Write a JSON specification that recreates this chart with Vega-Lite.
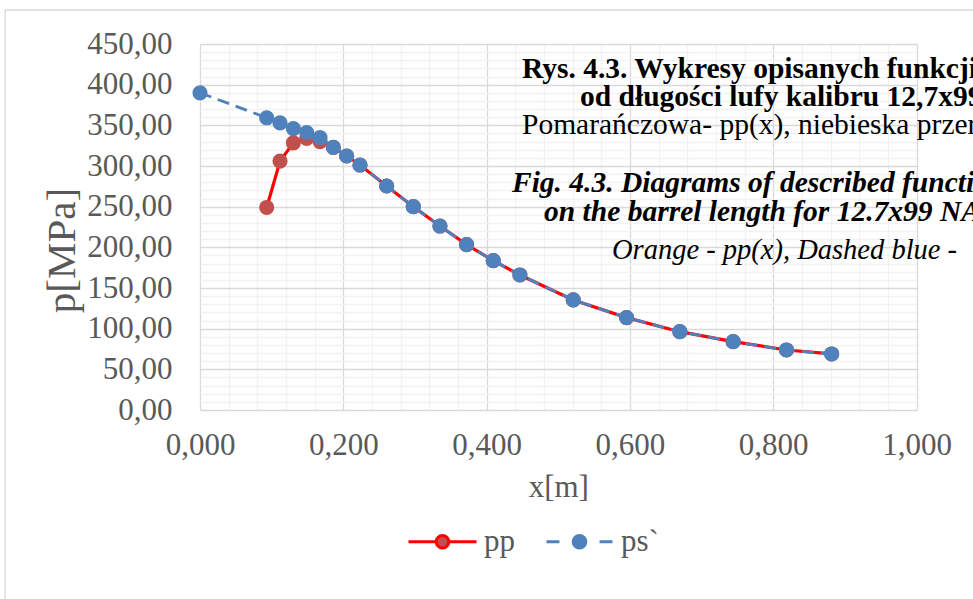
{
  "$schema": "https://vega.github.io/schema/vega-lite/v6.json",
  "autosize": {"type": "none"},
  "width": 716.5,
  "height": 366,
  "padding": {"left": 200, "top": 44, "right": 56.5, "bottom": 189},
  "background": "white",
  "config": {
    "view": {"stroke": null},
    "font": "Liberation Serif",
    "axis": {
      "domain": false, "ticks": false, "gridWidth": 1.3,
      "labelFont": "Liberation Serif", "labelFontSize": 31, "labelColor": "#595959",
      "labelOverlap": false, "labelFlush": false,
      "titleFont": "Liberation Serif", "titleColor": "#595959", "titleFontWeight": "normal"
    }
  },
  "datasets": {
    "curves": [
      {"x": 0.0931, "p": 249, "series": "pp"},
      {"x": 0.1117, "p": 306, "series": "pp"},
      {"x": 0.1303, "p": 328.5, "series": "pp"},
      {"x": 0.1489, "p": 334, "series": "pp"},
      {"x": 0.1675, "p": 330, "series": "pp"},
      {"x": 0.1861, "p": 323, "series": "pp"},
      {"x": 0.2047, "p": 312.3, "series": "pp"},
      {"x": 0.2233, "p": 301.2, "series": "pp"},
      {"x": 0.2605, "p": 275.4, "series": "pp"},
      {"x": 0.2977, "p": 250, "series": "pp"},
      {"x": 0.3349, "p": 226.2, "series": "pp"},
      {"x": 0.3721, "p": 203.3, "series": "pp"},
      {"x": 0.4093, "p": 183.6, "series": "pp"},
      {"x": 0.4465, "p": 166, "series": "pp"},
      {"x": 0.5209, "p": 135.3, "series": "pp"},
      {"x": 0.5953, "p": 113.6, "series": "pp"},
      {"x": 0.6697, "p": 96.3, "series": "pp"},
      {"x": 0.7441, "p": 84, "series": "pp"},
      {"x": 0.8185, "p": 73.8, "series": "pp"},
      {"x": 0.8816, "p": 68.9, "series": "pp"},
      {"x": 0.0, "p": 390, "series": "ps`"},
      {"x": 0.0931, "p": 359.3, "series": "ps`"},
      {"x": 0.1117, "p": 353, "series": "ps`"},
      {"x": 0.1303, "p": 346, "series": "ps`"},
      {"x": 0.1489, "p": 341.2, "series": "ps`"},
      {"x": 0.1675, "p": 334.8, "series": "ps`"},
      {"x": 0.1861, "p": 323, "series": "ps`"},
      {"x": 0.2047, "p": 312.3, "series": "ps`"},
      {"x": 0.2233, "p": 301.2, "series": "ps`"},
      {"x": 0.2605, "p": 275.4, "series": "ps`"},
      {"x": 0.2977, "p": 250, "series": "ps`"},
      {"x": 0.3349, "p": 226.2, "series": "ps`"},
      {"x": 0.3721, "p": 203.3, "series": "ps`"},
      {"x": 0.4093, "p": 183.6, "series": "ps`"},
      {"x": 0.4465, "p": 166, "series": "ps`"},
      {"x": 0.5209, "p": 135.3, "series": "ps`"},
      {"x": 0.5953, "p": 113.6, "series": "ps`"},
      {"x": 0.6697, "p": 96.3, "series": "ps`"},
      {"x": 0.7441, "p": 84, "series": "ps`"},
      {"x": 0.8185, "p": 73.8, "series": "ps`"},
      {"x": 0.8816, "p": 68.9, "series": "ps`"}
    ]
  },
  "layer": [
    {
      "data": {"name": "curves"},
      "transform": [{"filter": "datum.series === 'pp'"}],
      "mark": {"type": "line", "strokeWidth": 3.2},
      "encoding": {
        "x": {"field": "x", "type": "quantitative", "scale": {"domain": [0, 1], "nice": false, "zero": false},
          "axis": {"title": "x[m]", "values": [0,0.04,0.08,0.12,0.16,0.2,0.24,0.28,0.32,0.36,0.4,0.44,0.48,0.52,0.56,0.6,0.64,0.68,0.72,0.76,0.8,0.84,0.88,0.92,0.96,1], "labelExpr": "abs(datum.value*5 - round(datum.value*5)) < 1e-6 ? replace(format(datum.value, '.3f'), '.', ',') : ''", "gridColor": {"condition": {"test": "abs(datum.value*5 - round(datum.value*5)) < 1e-6", "value": "#D9D9D9"}, "value": "#F2F2F2"}, "labelPadding": 20, "titleFontSize": 31, "titlePadding": 12}},
        "y": {"field": "p", "type": "quantitative", "scale": {"domain": [0, 450], "nice": false, "zero": false},
          "axis": {"title": "p[MPa]", "values": [0,10,20,30,40,50,60,70,80,90,100,110,120,130,140,150,160,170,180,190,200,210,220,230,240,250,260,270,280,290,300,310,320,330,340,350,360,370,380,390,400,410,420,430,440,450], "labelExpr": "datum.value % 50 === 0 ? replace(format(datum.value, '.2f'), '.', ',') : ''", "gridColor": {"condition": {"test": "datum.value % 50 === 0", "value": "#D9D9D9"}, "value": "#F2F2F2"}, "labelPadding": 28, "titleFontSize": 41, "titlePadding": 3, "titleY": 206}},
        "stroke": {
          "field": "series", "type": "nominal",
          "scale": {"domain": ["pp", "ps`"], "range": ["#FF0000", "#4F81BD"]},
          "legend": {
            "title": null, "orient": "none", "direction": "horizontal",
            "legendX": 207, "legendY": 462, "padding": 0,
            "symbolSize": 4624, "symbolStrokeWidth": 3,
            "labelFont": "Liberation Serif", "labelFontSize": 31, "labelColor": "#595959",
            "labelOffset": 6, "columnPadding": 25,
            "encode": {
              "symbols": {
                "update": {
                  "shape": {"signal": "datum.value === 'pp' ? 'M-1,0L-0.185,0M0.185,0L1,0M0.185,0A0.185,0.185,0,1,1,-0.185,0A0.185,0.185,0,1,1,0.185,0' : 'M-0.97,0L-0.59,0M0.59,0L0.97,0M0.185,0A0.185,0.185,0,1,1,-0.185,0A0.185,0.185,0,1,1,0.185,0'"},
                  "fill": {"signal": "datum.value === 'pp' ? '#C0504D' : '#4F81BD'"},
                  "strokeDash": {"value": []},
                  "opacity": {"value": 1}
                }
              }
            }
          }
        }
      }
    },
    {
      "data": {"name": "curves"},
      "transform": [{"filter": "datum.series === 'pp'"}],
      "mark": {"type": "circle", "size": 230, "color": "#C0504D", "opacity": 1},
      "encoding": {
        "x": {"field": "x", "type": "quantitative",
          "axis": {"title": "x[m]", "values": [0,0.04,0.08,0.12,0.16,0.2,0.24,0.28,0.32,0.36,0.4,0.44,0.48,0.52,0.56,0.6,0.64,0.68,0.72,0.76,0.8,0.84,0.88,0.92,0.96,1], "labelExpr": "abs(datum.value*5 - round(datum.value*5)) < 1e-6 ? replace(format(datum.value, '.3f'), '.', ',') : ''", "gridColor": {"condition": {"test": "abs(datum.value*5 - round(datum.value*5)) < 1e-6", "value": "#D9D9D9"}, "value": "#F2F2F2"}, "labelPadding": 20, "titleFontSize": 31, "titlePadding": 12}},
        "y": {"field": "p", "type": "quantitative",
          "axis": {"title": "p[MPa]", "values": [0,10,20,30,40,50,60,70,80,90,100,110,120,130,140,150,160,170,180,190,200,210,220,230,240,250,260,270,280,290,300,310,320,330,340,350,360,370,380,390,400,410,420,430,440,450], "labelExpr": "datum.value % 50 === 0 ? replace(format(datum.value, '.2f'), '.', ',') : ''", "gridColor": {"condition": {"test": "datum.value % 50 === 0", "value": "#D9D9D9"}, "value": "#F2F2F2"}, "labelPadding": 28, "titleFontSize": 41, "titlePadding": 3, "titleY": 206}}
      }
    },
    {
      "data": {"name": "curves"},
      "transform": [{"filter": "datum.series === 'ps`'"}],
      "mark": {"type": "line", "strokeWidth": 2.8, "strokeDash": [12, 7]},
      "encoding": {
        "x": {"field": "x", "type": "quantitative",
          "axis": {"title": "x[m]", "values": [0,0.04,0.08,0.12,0.16,0.2,0.24,0.28,0.32,0.36,0.4,0.44,0.48,0.52,0.56,0.6,0.64,0.68,0.72,0.76,0.8,0.84,0.88,0.92,0.96,1], "labelExpr": "abs(datum.value*5 - round(datum.value*5)) < 1e-6 ? replace(format(datum.value, '.3f'), '.', ',') : ''", "gridColor": {"condition": {"test": "abs(datum.value*5 - round(datum.value*5)) < 1e-6", "value": "#D9D9D9"}, "value": "#F2F2F2"}, "labelPadding": 20, "titleFontSize": 31, "titlePadding": 12}},
        "y": {"field": "p", "type": "quantitative",
          "axis": {"title": "p[MPa]", "values": [0,10,20,30,40,50,60,70,80,90,100,110,120,130,140,150,160,170,180,190,200,210,220,230,240,250,260,270,280,290,300,310,320,330,340,350,360,370,380,390,400,410,420,430,440,450], "labelExpr": "datum.value % 50 === 0 ? replace(format(datum.value, '.2f'), '.', ',') : ''", "gridColor": {"condition": {"test": "datum.value % 50 === 0", "value": "#D9D9D9"}, "value": "#F2F2F2"}, "labelPadding": 28, "titleFontSize": 41, "titlePadding": 3, "titleY": 206}},
        "stroke": {"field": "series", "type": "nominal"}
      }
    },
    {
      "data": {"name": "curves"},
      "transform": [{"filter": "datum.series === 'ps`'"}],
      "mark": {"type": "circle", "size": 230, "color": "#4F81BD", "opacity": 1},
      "encoding": {
        "x": {"field": "x", "type": "quantitative",
          "axis": {"title": "x[m]", "values": [0,0.04,0.08,0.12,0.16,0.2,0.24,0.28,0.32,0.36,0.4,0.44,0.48,0.52,0.56,0.6,0.64,0.68,0.72,0.76,0.8,0.84,0.88,0.92,0.96,1], "labelExpr": "abs(datum.value*5 - round(datum.value*5)) < 1e-6 ? replace(format(datum.value, '.3f'), '.', ',') : ''", "gridColor": {"condition": {"test": "abs(datum.value*5 - round(datum.value*5)) < 1e-6", "value": "#D9D9D9"}, "value": "#F2F2F2"}, "labelPadding": 20, "titleFontSize": 31, "titlePadding": 12}},
        "y": {"field": "p", "type": "quantitative",
          "axis": {"title": "p[MPa]", "values": [0,10,20,30,40,50,60,70,80,90,100,110,120,130,140,150,160,170,180,190,200,210,220,230,240,250,260,270,280,290,300,310,320,330,340,350,360,370,380,390,400,410,420,430,440,450], "labelExpr": "datum.value % 50 === 0 ? replace(format(datum.value, '.2f'), '.', ',') : ''", "gridColor": {"condition": {"test": "datum.value % 50 === 0", "value": "#D9D9D9"}, "value": "#F2F2F2"}, "labelPadding": 28, "titleFontSize": 41, "titlePadding": 3, "titleY": 206}}
      }
    },
    {
      "data": {"values": [{}]},
      "mark": {"type": "rule", "color": "#D9D9D9", "strokeWidth": 1.3},
      "encoding": {
        "x": {"datum": -0.272, "type": "quantitative",
          "axis": {"title": "x[m]", "values": [0,0.04,0.08,0.12,0.16,0.2,0.24,0.28,0.32,0.36,0.4,0.44,0.48,0.52,0.56,0.6,0.64,0.68,0.72,0.76,0.8,0.84,0.88,0.92,0.96,1], "labelExpr": "abs(datum.value*5 - round(datum.value*5)) < 1e-6 ? replace(format(datum.value, '.3f'), '.', ',') : ''", "gridColor": {"condition": {"test": "abs(datum.value*5 - round(datum.value*5)) < 1e-6", "value": "#D9D9D9"}, "value": "#F2F2F2"}, "labelPadding": 20, "titleFontSize": 31, "titlePadding": 12}},
        "x2": {"datum": 1.2},
        "y": {"datum": 491.8, "type": "quantitative",
          "axis": {"title": "p[MPa]", "values": [0,10,20,30,40,50,60,70,80,90,100,110,120,130,140,150,160,170,180,190,200,210,220,230,240,250,260,270,280,290,300,310,320,330,340,350,360,370,380,390,400,410,420,430,440,450], "labelExpr": "datum.value % 50 === 0 ? replace(format(datum.value, '.2f'), '.', ',') : ''", "gridColor": {"condition": {"test": "datum.value % 50 === 0", "value": "#D9D9D9"}, "value": "#F2F2F2"}, "labelPadding": 28, "titleFontSize": 41, "titlePadding": 3, "titleY": 206}}
      }
    },
    {
      "data": {"values": [{}]},
      "mark": {"type": "rule", "color": "#D9D9D9", "strokeWidth": 1.3},
      "encoding": {
        "x": {"datum": -0.272, "type": "quantitative",
          "axis": {"title": "x[m]", "values": [0,0.04,0.08,0.12,0.16,0.2,0.24,0.28,0.32,0.36,0.4,0.44,0.48,0.52,0.56,0.6,0.64,0.68,0.72,0.76,0.8,0.84,0.88,0.92,0.96,1], "labelExpr": "abs(datum.value*5 - round(datum.value*5)) < 1e-6 ? replace(format(datum.value, '.3f'), '.', ',') : ''", "gridColor": {"condition": {"test": "abs(datum.value*5 - round(datum.value*5)) < 1e-6", "value": "#D9D9D9"}, "value": "#F2F2F2"}, "labelPadding": 20, "titleFontSize": 31, "titlePadding": 12}},
        "y": {"datum": 491.8, "type": "quantitative",
          "axis": {"title": "p[MPa]", "values": [0,10,20,30,40,50,60,70,80,90,100,110,120,130,140,150,160,170,180,190,200,210,220,230,240,250,260,270,280,290,300,310,320,330,340,350,360,370,380,390,400,410,420,430,440,450], "labelExpr": "datum.value % 50 === 0 ? replace(format(datum.value, '.2f'), '.', ',') : ''", "gridColor": {"condition": {"test": "datum.value % 50 === 0", "value": "#D9D9D9"}, "value": "#F2F2F2"}, "labelPadding": 28, "titleFontSize": 41, "titlePadding": 3, "titleY": 206}},
        "y2": {"datum": -240}
      }
    },
    {
      "data": {"values": [{}]},
      "mark": {"type": "text", "text": "Rys. 4.3. Wykresy opisanych funkcji", "align": "left", "baseline": "middle", "font": "Liberation Serif", "fontSize": 29.5, "fontWeight": "bold", "color": "#000000"},
      "encoding": {
        "x": {"datum": 0.4494, "type": "quantitative",
          "axis": {"title": "x[m]", "values": [0,0.04,0.08,0.12,0.16,0.2,0.24,0.28,0.32,0.36,0.4,0.44,0.48,0.52,0.56,0.6,0.64,0.68,0.72,0.76,0.8,0.84,0.88,0.92,0.96,1], "labelExpr": "abs(datum.value*5 - round(datum.value*5)) < 1e-6 ? replace(format(datum.value, '.3f'), '.', ',') : ''", "gridColor": {"condition": {"test": "abs(datum.value*5 - round(datum.value*5)) < 1e-6", "value": "#D9D9D9"}, "value": "#F2F2F2"}, "labelPadding": 20, "titleFontSize": 31, "titlePadding": 12}},
        "y": {"datum": 419.3, "type": "quantitative",
          "axis": {"title": "p[MPa]", "values": [0,10,20,30,40,50,60,70,80,90,100,110,120,130,140,150,160,170,180,190,200,210,220,230,240,250,260,270,280,290,300,310,320,330,340,350,360,370,380,390,400,410,420,430,440,450], "labelExpr": "datum.value % 50 === 0 ? replace(format(datum.value, '.2f'), '.', ',') : ''", "gridColor": {"condition": {"test": "datum.value % 50 === 0", "value": "#D9D9D9"}, "value": "#F2F2F2"}, "labelPadding": 28, "titleFontSize": 41, "titlePadding": 3, "titleY": 206}}
      }
    },
    {
      "data": {"values": [{}]},
      "mark": {"type": "text", "text": "od długości lufy kalibru 12,7x99", "align": "left", "baseline": "middle", "font": "Liberation Serif", "fontSize": 29.5, "fontWeight": "bold", "color": "#000000"},
      "encoding": {
        "x": {"datum": 0.5304, "type": "quantitative",
          "axis": {"title": "x[m]", "values": [0,0.04,0.08,0.12,0.16,0.2,0.24,0.28,0.32,0.36,0.4,0.44,0.48,0.52,0.56,0.6,0.64,0.68,0.72,0.76,0.8,0.84,0.88,0.92,0.96,1], "labelExpr": "abs(datum.value*5 - round(datum.value*5)) < 1e-6 ? replace(format(datum.value, '.3f'), '.', ',') : ''", "gridColor": {"condition": {"test": "abs(datum.value*5 - round(datum.value*5)) < 1e-6", "value": "#D9D9D9"}, "value": "#F2F2F2"}, "labelPadding": 20, "titleFontSize": 31, "titlePadding": 12}},
        "y": {"datum": 384.9, "type": "quantitative",
          "axis": {"title": "p[MPa]", "values": [0,10,20,30,40,50,60,70,80,90,100,110,120,130,140,150,160,170,180,190,200,210,220,230,240,250,260,270,280,290,300,310,320,330,340,350,360,370,380,390,400,410,420,430,440,450], "labelExpr": "datum.value % 50 === 0 ? replace(format(datum.value, '.2f'), '.', ',') : ''", "gridColor": {"condition": {"test": "datum.value % 50 === 0", "value": "#D9D9D9"}, "value": "#F2F2F2"}, "labelPadding": 28, "titleFontSize": 41, "titlePadding": 3, "titleY": 206}}
      }
    },
    {
      "data": {"values": [{}]},
      "mark": {"type": "text", "text": "Pomarańczowa- pp(x), niebieska przerywana", "align": "left", "baseline": "middle", "font": "Liberation Serif", "fontSize": 29.5, "fontWeight": "normal", "color": "#000000"},
      "encoding": {
        "x": {"datum": 0.4494, "type": "quantitative",
          "axis": {"title": "x[m]", "values": [0,0.04,0.08,0.12,0.16,0.2,0.24,0.28,0.32,0.36,0.4,0.44,0.48,0.52,0.56,0.6,0.64,0.68,0.72,0.76,0.8,0.84,0.88,0.92,0.96,1], "labelExpr": "abs(datum.value*5 - round(datum.value*5)) < 1e-6 ? replace(format(datum.value, '.3f'), '.', ',') : ''", "gridColor": {"condition": {"test": "abs(datum.value*5 - round(datum.value*5)) < 1e-6", "value": "#D9D9D9"}, "value": "#F2F2F2"}, "labelPadding": 20, "titleFontSize": 31, "titlePadding": 12}},
        "y": {"datum": 350.4, "type": "quantitative",
          "axis": {"title": "p[MPa]", "values": [0,10,20,30,40,50,60,70,80,90,100,110,120,130,140,150,160,170,180,190,200,210,220,230,240,250,260,270,280,290,300,310,320,330,340,350,360,370,380,390,400,410,420,430,440,450], "labelExpr": "datum.value % 50 === 0 ? replace(format(datum.value, '.2f'), '.', ',') : ''", "gridColor": {"condition": {"test": "datum.value % 50 === 0", "value": "#D9D9D9"}, "value": "#F2F2F2"}, "labelPadding": 28, "titleFontSize": 41, "titlePadding": 3, "titleY": 206}}
      }
    },
    {
      "data": {"values": [{}]},
      "mark": {"type": "text", "text": "Fig. 4.3. Diagrams of described functions", "align": "left", "baseline": "middle", "font": "Liberation Serif", "fontSize": 29.5, "fontWeight": "bold", "fontStyle": "italic", "color": "#000000"},
      "encoding": {
        "x": {"datum": 0.4354, "type": "quantitative",
          "axis": {"title": "x[m]", "values": [0,0.04,0.08,0.12,0.16,0.2,0.24,0.28,0.32,0.36,0.4,0.44,0.48,0.52,0.56,0.6,0.64,0.68,0.72,0.76,0.8,0.84,0.88,0.92,0.96,1], "labelExpr": "abs(datum.value*5 - round(datum.value*5)) < 1e-6 ? replace(format(datum.value, '.3f'), '.', ',') : ''", "gridColor": {"condition": {"test": "abs(datum.value*5 - round(datum.value*5)) < 1e-6", "value": "#D9D9D9"}, "value": "#F2F2F2"}, "labelPadding": 20, "titleFontSize": 31, "titlePadding": 12}},
        "y": {"datum": 279.1, "type": "quantitative",
          "axis": {"title": "p[MPa]", "values": [0,10,20,30,40,50,60,70,80,90,100,110,120,130,140,150,160,170,180,190,200,210,220,230,240,250,260,270,280,290,300,310,320,330,340,350,360,370,380,390,400,410,420,430,440,450], "labelExpr": "datum.value % 50 === 0 ? replace(format(datum.value, '.2f'), '.', ',') : ''", "gridColor": {"condition": {"test": "datum.value % 50 === 0", "value": "#D9D9D9"}, "value": "#F2F2F2"}, "labelPadding": 28, "titleFontSize": 41, "titlePadding": 3, "titleY": 206}}
      }
    },
    {
      "data": {"values": [{}]},
      "mark": {"type": "text", "text": "on the barrel length for 12.7x99 NATO", "align": "left", "baseline": "middle", "font": "Liberation Serif", "fontSize": 29.5, "fontWeight": "bold", "fontStyle": "italic", "color": "#000000"},
      "encoding": {
        "x": {"datum": 0.4802, "type": "quantitative",
          "axis": {"title": "x[m]", "values": [0,0.04,0.08,0.12,0.16,0.2,0.24,0.28,0.32,0.36,0.4,0.44,0.48,0.52,0.56,0.6,0.64,0.68,0.72,0.76,0.8,0.84,0.88,0.92,0.96,1], "labelExpr": "abs(datum.value*5 - round(datum.value*5)) < 1e-6 ? replace(format(datum.value, '.3f'), '.', ',') : ''", "gridColor": {"condition": {"test": "abs(datum.value*5 - round(datum.value*5)) < 1e-6", "value": "#D9D9D9"}, "value": "#F2F2F2"}, "labelPadding": 20, "titleFontSize": 31, "titlePadding": 12}},
        "y": {"datum": 243.5, "type": "quantitative",
          "axis": {"title": "p[MPa]", "values": [0,10,20,30,40,50,60,70,80,90,100,110,120,130,140,150,160,170,180,190,200,210,220,230,240,250,260,270,280,290,300,310,320,330,340,350,360,370,380,390,400,410,420,430,440,450], "labelExpr": "datum.value % 50 === 0 ? replace(format(datum.value, '.2f'), '.', ',') : ''", "gridColor": {"condition": {"test": "datum.value % 50 === 0", "value": "#D9D9D9"}, "value": "#F2F2F2"}, "labelPadding": 28, "titleFontSize": 41, "titlePadding": 3, "titleY": 206}}
      }
    },
    {
      "data": {"values": [{}]},
      "mark": {"type": "text", "text": "Orange - pp(x), Dashed blue -", "align": "left", "baseline": "middle", "font": "Liberation Serif", "fontSize": 28.5, "fontWeight": "normal", "fontStyle": "italic", "color": "#000000"},
      "encoding": {
        "x": {"datum": 0.575, "type": "quantitative",
          "axis": {"title": "x[m]", "values": [0,0.04,0.08,0.12,0.16,0.2,0.24,0.28,0.32,0.36,0.4,0.44,0.48,0.52,0.56,0.6,0.64,0.68,0.72,0.76,0.8,0.84,0.88,0.92,0.96,1], "labelExpr": "abs(datum.value*5 - round(datum.value*5)) < 1e-6 ? replace(format(datum.value, '.3f'), '.', ',') : ''", "gridColor": {"condition": {"test": "abs(datum.value*5 - round(datum.value*5)) < 1e-6", "value": "#D9D9D9"}, "value": "#F2F2F2"}, "labelPadding": 20, "titleFontSize": 31, "titlePadding": 12}},
        "y": {"datum": 196.7, "type": "quantitative",
          "axis": {"title": "p[MPa]", "values": [0,10,20,30,40,50,60,70,80,90,100,110,120,130,140,150,160,170,180,190,200,210,220,230,240,250,260,270,280,290,300,310,320,330,340,350,360,370,380,390,400,410,420,430,440,450], "labelExpr": "datum.value % 50 === 0 ? replace(format(datum.value, '.2f'), '.', ',') : ''", "gridColor": {"condition": {"test": "datum.value % 50 === 0", "value": "#D9D9D9"}, "value": "#F2F2F2"}, "labelPadding": 28, "titleFontSize": 41, "titlePadding": 3, "titleY": 206}}
      }
    }
  ]
}
